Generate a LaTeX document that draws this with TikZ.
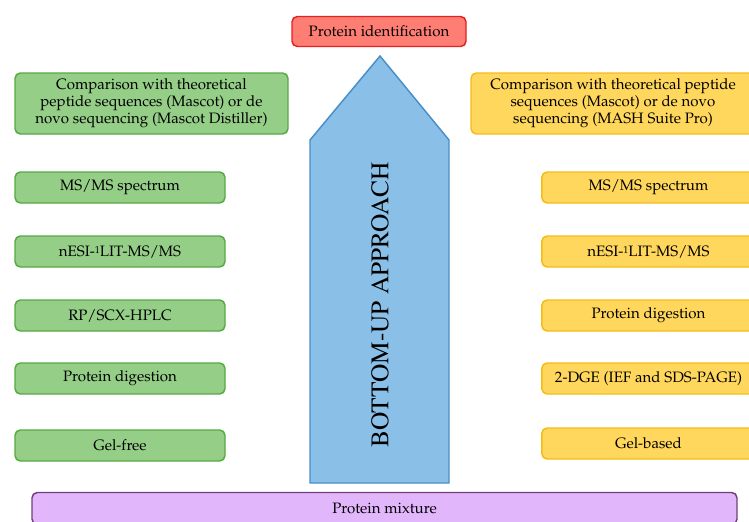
\documentclass[tikz,border=0pt]{standalone}
\usepackage[T1]{fontenc}
\usepackage{mathpazo}
\usepackage{tikz}
\usetikzlibrary{arrows.meta}
\usepackage{color}
\definecolor{green_fill}{RGB}{148, 206, 135}
\definecolor{green_line}{RGB}{88, 168, 68}
\definecolor{yellow_fill}{RGB}{255, 215, 92}
\definecolor{yellow_line}{RGB}{244, 188, 24}
\definecolor{red_fill}{RGB}{255, 126, 116}
\definecolor{red_line}{RGB}{228, 32, 32}
\definecolor{blue_fill}{RGB}{138, 192, 232}
\definecolor{blue_line}{RGB}{72, 142, 200}
\definecolor{purple_fill}{RGB}{226, 182, 250}
\definecolor{purple_line}{RGB}{112, 62, 122}
\newcommand{\supone}{\raisebox{0.35ex}{\fontsize{7.5}{7.5}\selectfont 1}}

\begin{document}
\begin{tikzpicture}[x=0.75pt, y=-0.75pt,
        every node/.style={font=\fontsize{11.3}{12.8}\selectfont, align=center, inner sep=0pt},
        box/.style={shape=rectangle, rounded corners=4pt, line width=1.1pt},
        greenbox/.style={box, draw=green_line, fill=green_fill},
        yellowbox/.style={box, draw=yellow_line, fill=yellow_fill},
        smallbox/.style={minimum width=157.5pt, minimum height=23.25pt},
        rightbox/.style={minimum width=160pt, minimum height=23.25pt}]
    \useasboundingbox (0,0) rectangle (749,521);

        % top and bottom
        \node[box, draw=red_line, fill=red_fill, minimum width=130.5pt, minimum height=22.5pt] (ident) at (379,31.5) {Protein identification};
        \node[box, draw=purple_line, fill=purple_fill, minimum width=528.75pt, minimum height=24pt] (mixture) at (384.5,508.5) {Protein mixture};

        % big arrow
        \draw[draw=blue_line, fill=blue_fill, line width=1.1pt] (310,483) -- (310,140) -- (380,56) -- (449,140) -- (449,483) -- cycle;
        \node[rotate=90, font=\fontfamily{ptm}\fontsize{19}{19}\selectfont] (approach) at (380,305) {BOTTOM-UP APPROACH};

        % gel-free side
        \node[greenbox, minimum width=204.75pt, minimum height=45.75pt] (compare_l) at (151.5,103.5) {Comparison with theoretical\\peptide sequences (Mascot) or de\\novo sequencing (Mascot Distiller)};
        \node[greenbox, smallbox] (msms_l) at (120,187.5) {MS/MS spectrum};
        \node[greenbox, smallbox] (nesi_l) at (120,251.5) {nESI-\supone LIT-MS/MS};
        \node[greenbox, smallbox] (hplc_l) at (120,315.5) {RP/SCX-HPLC};
        \node[greenbox, smallbox] (digest_l) at (120,378.5) {Protein digestion};
        \node[greenbox, smallbox] (gelfree) at (120,445.5) {Gel-free};

        % gel-based side
        \node[yellowbox, minimum width=213pt, minimum height=45.75pt] (compare_r) at (613,103.5) {Comparison with theoretical peptide\\sequences (Mascot) or de novo\\sequencing (MASH Suite Pro)};
        \node[yellowbox, rightbox] (msms_r) at (648.5,187.5) {MS/MS spectrum};
        \node[yellowbox, rightbox] (nesi_r) at (648.5,251.5) {nESI-\supone LIT-MS/MS};
        \node[yellowbox, rightbox] (digest_r) at (648.5,315.5) {Protein digestion};
        \node[yellowbox, rightbox] (dge) at (648.5,378.5) {2-DGE (IEF and SDS-PAGE)};
        \node[yellowbox, rightbox] (gelbased) at (648.5,443.5) {Gel-based};

    \end{tikzpicture}
\end{document}
